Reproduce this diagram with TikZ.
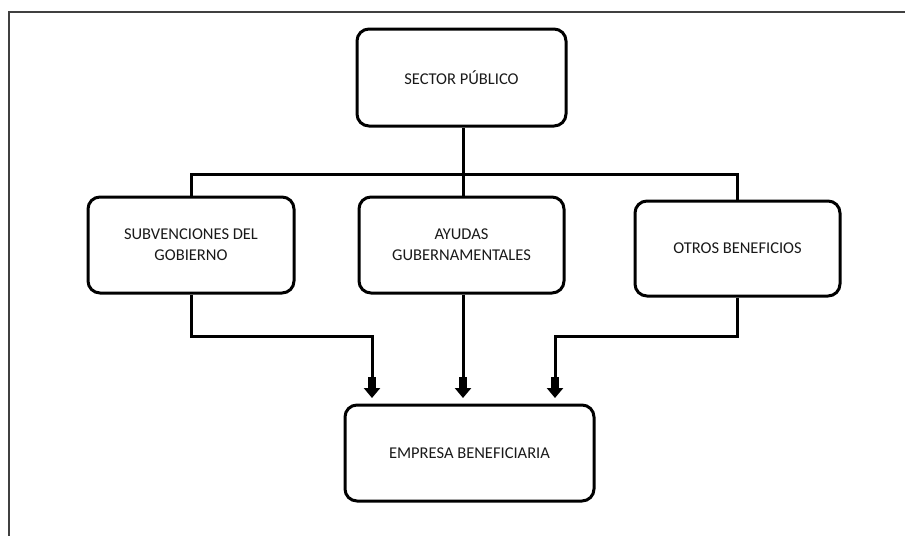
\documentclass[tikz,border=0pt]{standalone}
\usepackage{fontspec}
\setmainfont{Carlito}
\usetikzlibrary{arrows.meta}

\begin{document}
\begin{tikzpicture}[x=1pt,y=-1pt,
	box/.style={rectangle,rounded corners=12pt,line width=3pt,draw,align=center,
		font=\fontsize{16.5}{21}\selectfont,text=black!90},
	link/.style={line width=3pt},
	flow/.style={line width=3pt,-{Rectangle[length=11pt,width=8pt]Triangle[length=10pt,width=16pt]}}]
	\useasboundingbox (0,0) rectangle (905,536);
	\draw [line width=1.5pt,black!75] (905,12) -- (9,12) -- (9,536);
	\begin{scope}[every node/.style={box}]
	\node (sector) [minimum width=209pt,minimum height=97pt] at (461.5,77.5) {SECTOR PÚBLICO};
	\node (subv) [minimum width=206pt,minimum height=96pt] at (191,245) {SUBVENCIONES DEL\\GOBIERNO};
	\node (ayudas) [minimum width=205pt,minimum height=96pt] at (461.5,245) {AYUDAS\\GUBERNAMENTALES};
	\node (otros) [minimum width=205pt,minimum height=95pt] at (737.5,248.5) {OTROS BENEFICIOS};
	\node (empresa) [minimum width=249pt,minimum height=96pt] at (469.5,453) {EMPRESA BENEFICIARIA};
	\end{scope}
	\coordinate (bus) at (463,174);
	\coordinate (bendL) at (372,336);
	\coordinate (bendR) at (555,336);
	\coordinate (tipL) at (372,398);
	\coordinate (tipM) at (463,398);
	\coordinate (tipR) at (555,398);
	\draw [link] (sector.south -| bus) -- (ayudas.north -| bus);
	\draw [link] (subv.north) |- (bus) -| (otros.north);
	\draw [flow] (subv.south) |- (bendL) -- (tipL);
	\draw [flow] (ayudas.south -| tipM) -- (tipM);
	\draw [flow] (otros.south) |- (bendR) -- (tipR);
\end{tikzpicture}
\end{document}
